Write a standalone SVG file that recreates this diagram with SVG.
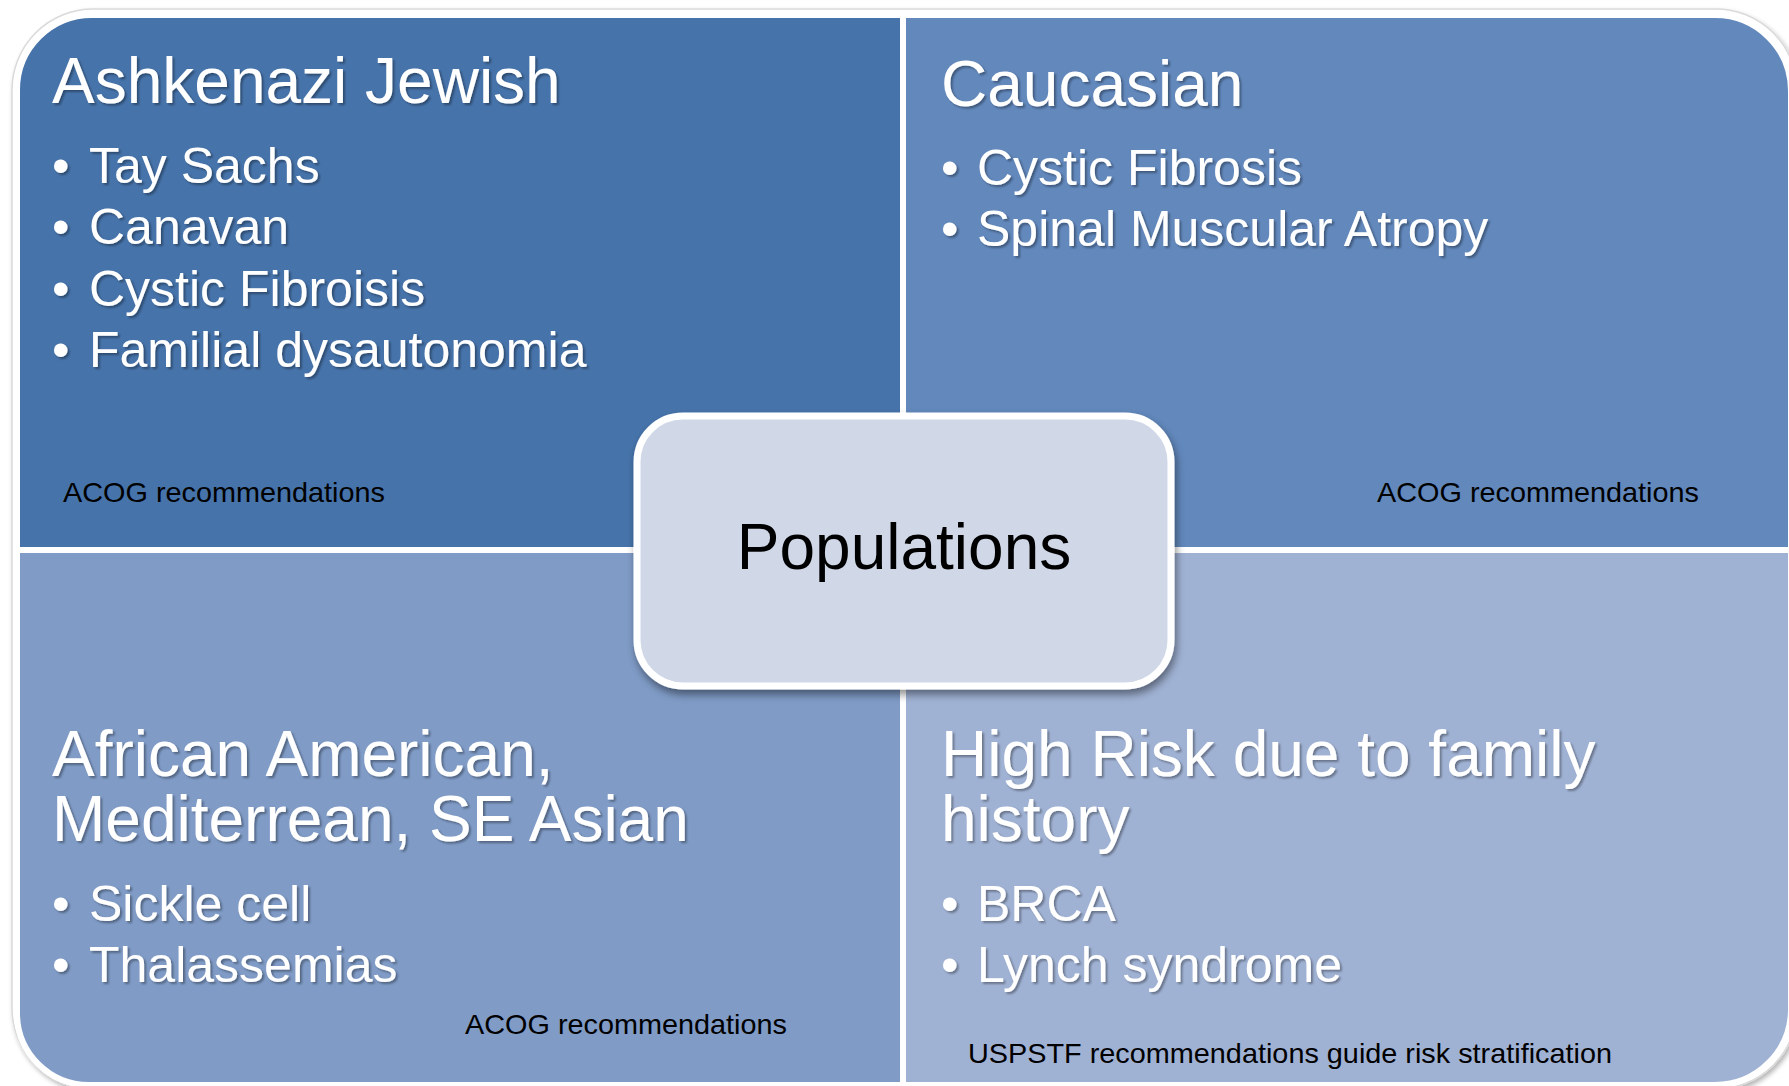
<svg xmlns="http://www.w3.org/2000/svg" width="1789" height="1086" viewBox="0 0 1789 1086">
<style>
.q{stroke:#ffffff;stroke-width:6}
.t{font-family:"Liberation Sans",Arial,sans-serif;fill:#ffffff;font-size:64px}
.b{font-family:"Liberation Sans",Arial,sans-serif;fill:#ffffff;font-size:50px}
.s{font-family:"Liberation Sans",Arial,sans-serif;fill:#000000;font-size:28px}
.c{font-family:"Liberation Sans",Arial,sans-serif;fill:#000000;font-size:64px}
</style>
<defs>
<filter id="sh" x="-10%" y="-10%" width="125%" height="130%">
<feGaussianBlur in="SourceAlpha" stdDeviation="4"/>
<feOffset dx="2" dy="5" result="o"/>
<feComponentTransfer><feFuncA type="linear" slope="0.45"/></feComponentTransfer>
<feMerge><feMergeNode/><feMergeNode in="SourceGraphic"/></feMerge>
</filter>
<filter id="ts" x="-5%" y="-20%" width="110%" height="150%">
<feGaussianBlur in="SourceAlpha" stdDeviation="1.2"/>
<feOffset dx="1.5" dy="2" result="o"/>
<feComponentTransfer><feFuncA type="linear" slope="0.35"/></feComponentTransfer>
<feMerge><feMergeNode/><feMergeNode in="SourceGraphic"/></feMerge>
</filter>
<filter id="os" x="-5%" y="-5%" width="110%" height="110%">
<feGaussianBlur in="SourceAlpha" stdDeviation="2.5"/>
<feOffset dx="2" dy="3" result="o"/>
<feComponentTransfer><feFuncA type="linear" slope="0.3"/></feComponentTransfer>
<feMerge><feMergeNode/><feMergeNode in="SourceGraphic"/></feMerge>
</filter>
</defs>
<rect width="1789" height="1086" fill="#ffffff"/>
<path d="M12 90 A81 81 0 0 1 93 9 H1716 A81 81 0 0 1 1797 90 V1008 A81 81 0 0 1 1716 1089 H93 A81 81 0 0 1 12 1008 Z" fill="#ffffff" stroke="#dadada" stroke-width="1.5" filter="url(#os)"/>
<g id="q-ashkenazi">
<path class="q" d="M17 90 A75 75 0 0 1 92 15 H903 V550 H17 Z" fill="#4673aa"/>
<g filter="url(#ts)">
<text class="t" x="52" y="103">Ashkenazi Jewish</text>
<text class="b" x="52" y="183">•</text><text class="b" x="89" y="183">Tay Sachs</text>
<text class="b" x="52" y="244">•</text><text class="b" x="89" y="244">Canavan</text>
<text class="b" x="52" y="306">•</text><text class="b" x="89" y="306">Cystic Fibroisis</text>
<text class="b" x="52" y="367">•</text><text class="b" x="89" y="367">Familial dysautonomia</text>
</g>
<text class="s" x="63" y="502" textLength="322" lengthAdjust="spacingAndGlyphs">ACOG recommendations</text>
</g>
<g id="q-caucasian">
<path class="q" d="M903 15 H1715 A76 76 0 0 1 1791 91 V550 H903 Z" fill="#6288bc"/>
<g filter="url(#ts)">
<text class="t" x="941" y="106">Caucasian</text>
<text class="b" x="941" y="185">•</text><text class="b" x="977" y="185">Cystic Fibrosis</text>
<text class="b" x="941" y="246">•</text><text class="b" x="977" y="246">Spinal Muscular Atropy</text>
</g>
<text class="s" x="1377" y="502" textLength="322" lengthAdjust="spacingAndGlyphs">ACOG recommendations</text>
</g>
<g id="q-african">
<path class="q" d="M17 550 H903 V1085 H89 A72 72 0 0 1 17 1013 Z" fill="#7f9bc6"/>
<g filter="url(#ts)">
<text class="t" x="52" y="776">African American,</text>
<text class="t" x="52" y="841">Mediterrean, SE Asian</text>
<text class="b" x="52" y="921">•</text><text class="b" x="89" y="921">Sickle cell</text>
<text class="b" x="52" y="982">•</text><text class="b" x="89" y="982">Thalassemias</text>
</g>
<text class="s" x="465" y="1034" textLength="322" lengthAdjust="spacingAndGlyphs">ACOG recommendations</text>
</g>
<g id="q-highrisk">
<path class="q" d="M903 550 H1791 V1009 A76 76 0 0 1 1715 1085 H903 Z" fill="#a0b2d4"/>
<g filter="url(#ts)">
<text class="t" x="941" y="776">High Risk due to family</text>
<text class="t" x="941" y="841">history</text>
<text class="b" x="941" y="921">•</text><text class="b" x="977" y="921">BRCA</text>
<text class="b" x="941" y="982">•</text><text class="b" x="977" y="982">Lynch syndrome</text>
</g>
<text class="s" x="968" y="1063" textLength="644" lengthAdjust="spacingAndGlyphs">USPSTF recommendations guide risk stratification</text>
</g>
<g id="connectors"></g>
<g id="center">
<rect x="637" y="416" width="534" height="270" rx="46" ry="46" fill="#d0d8e8" stroke="#ffffff" stroke-width="7" filter="url(#sh)"/>
<text class="c" x="904" y="569" text-anchor="middle">Populations</text>
</g>
</svg>
